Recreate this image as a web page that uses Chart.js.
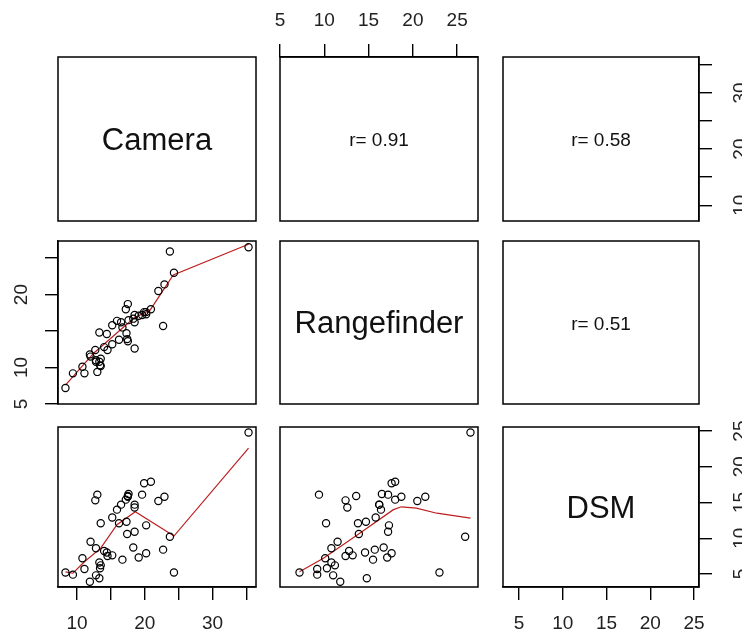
<!DOCTYPE html>
<html>
<head>
<meta charset="utf-8">
<title>pairs plot</title>
<script src="https://cdn.jsdelivr.net/npm/chart.js@4.4.1/dist/chart.umd.min.js"></script>
<style>
  body { margin: 0; background: #fff; }
  #wrap { position: relative; width: 742px; height: 636px; overflow: hidden; }
  #wrap canvas { position: absolute; left: 0; top: 0; }
</style>
</head>
<body>
<div id="wrap"></div>
<script>
var camera = [35.3, 20.9, 19.9, 13.0, 17.6, 19.6, 22.9, 17.5, 17.5, 22.0, 12.7, 17.2, 18.5, 18.5, 15.9, 16.5, 15.2, 17.3, 13.5, 16.2, 20.2, 18.5, 17.4, 23.7, 12.0, 18.3, 12.8, 22.7, 14.0, 14.4, 20.2, 15.2, 14.5, 19.1, 10.8, 16.7, 13.3, 13.5, 13.4, 11.1, 8.3, 24.3, 9.4, 12.8, 11.9, 13.3];
var rangefinder = [26.5, 18.0, 17.6, 9.4, 16.5, 17.2, 21.4, 18.7, 13.6, 20.5, 12.4, 18.0, 12.6, 16.2, 16.4, 16.2, 15.8, 14.7, 10.2, 13.8, 17.3, 17.2, 13.9, 25.9, 11.5, 16.7, 10.8, 15.7, 12.8, 14.6, 17.6, 13.2, 12.4, 17.1, 10.1, 15.5, 10.8, 11.2, 10.3, 9.2, 7.2, 23.0, 9.2, 11.0, 11.8, 14.8];
var dsm = [24.8, 17.9, 17.7, 16.1, 16.2, 16.1, 15.8, 15.8, 15.9, 15.2, 15.3, 15.4, 14.3, 14.7, 14.0, 14.7, 12.9, 12.3, 12.1, 12.1, 11.8, 10.9, 10.6, 10.2, 9.5, 8.7, 8.6, 8.4, 8.2, 8.0, 7.9, 7.6, 7.5, 7.3, 7.2, 7.0, 6.6, 6.2, 5.8, 5.7, 5.2, 5.2, 4.9, 4.8, 3.9, 4.4];

var varNames = ['Camera', 'Rangefinder', 'DSM'];
var corrLabels = ['r= 0.91', 'r= 0.58', 'r= 0.51']; // (1,2) (1,3) (2,3)

// red smoother lines
var smoothCamRfX = [8.3, 12.5, 18.4, 20.8, 24.2, 35.3];
var smoothCamRfY = [7.6, 12.0, 16.8, 17.9, 22.7, 26.9];
var smoothCamDsmX = [8.3, 9.4, 11.1, 13.5, 15.9, 18.6, 24.3, 35.3];
var smoothCamDsmY = [5.3, 5.1, 6.7, 8.6, 11.9, 13.7, 10.3, 22.6];
var smoothRfDsmX = [7.2, 9.9, 14.0, 17.8, 18.7, 20.4, 22.7, 26.5];
var smoothRfDsmY = [5.3, 7.2, 10.7, 14.0, 14.4, 14.2, 13.5, 12.8];

// axis limits and ticks
var cameraRange = [7.2, 36.4];
var rfRange = [5.0, 27.35];
var dsmRange = [3.17, 25.57];
var cameraTicks = [10, 15, 20, 25, 30, 35];
var cameraLabels = ['10', '', '20', '', '30', ''];
var rfTicks = [5, 10, 15, 20, 25];
var rfTopLabels = ['5', '10', '15', '20', '25'];
var rfLeftLabels = ['5', '10', '', '20', ''];
var dsmTicks = [5, 10, 15, 20, 25];
var dsmLabels = ['5', '10', '15', '20', '25'];

var fontFam = '"Liberation Sans", Arial, sans-serif';

// panel boxes in px
var colLeft = [58, 280, 503], colRight = [256, 478, 699];
var rowTop = [57, 241, 427], rowBottom = [221, 404, 587];

var vars = [camera, rangefinder, dsm];
var ranges = [cameraRange, rfRange, dsmRange];

function pairs(a, b) {
  return a.map(function (v, i) { return { x: v, y: b[i] }; });
}

var smooths = {
  '1,0': pairs(smoothCamRfX, smoothCamRfY),
  '2,0': pairs(smoothCamDsmX, smoothCamDsmY),
  '2,1': pairs(smoothRfDsmX, smoothRfDsmY)
};

function axis(range, show, pos, ticks, labels, size, pad) {
  var vertical = (pos == 'left' || pos == 'right');
  return {
    type: 'linear',
    position: pos,
    display: show,
    min: range[0],
    max: range[1],
    afterBuildTicks: function (s) {
      s.ticks = (ticks || []).map(function (v) { return { value: v }; });
    },
    afterFit: function (s) {
      if (!show) return;
      if (vertical) s.width = size; else s.height = size;
    },
    grid: { drawOnChartArea: false, drawTicks: true, tickLength: 13, color: '#000', lineWidth: 1.4 },
    border: { display: true, color: '#000', width: 1.4 },
    ticks: {
      autoSkip: false,
      color: '#222',
      padding: pad || 0,
      minRotation: vertical ? 90 : 0,
      maxRotation: vertical ? 90 : 0,
      crossAlign: vertical ? 'center' : 'near',
      font: { family: fontFam, size: 19 },
      callback: function (v) {
        var k = ticks ? ticks.indexOf(v) : -1;
        return k >= 0 ? labels[k] : '';
      }
    }
  };
}

var panelBox = {
  id: 'panelBox',
  afterDatasetsDraw: function (chart, args, opts) {
    var a = chart.chartArea;
    var ctx = chart.ctx;
    ctx.save();
    ctx.strokeStyle = '#000';
    ctx.lineWidth = 1.5;
    ctx.strokeRect(a.left, a.top, a.right - a.left, a.bottom - a.top);
    if (opts.text) {
      ctx.fillStyle = '#111';
      ctx.font = opts.size + 'px ' + fontFam;
      ctx.textAlign = 'center';
      ctx.textBaseline = 'middle';
      ctx.fillText(opts.text, (a.left + a.right) / 2, (a.top + a.bottom) / 2 + 2);
    }
    ctx.restore();
  }
};

var wrap = document.getElementById('wrap');

for (var r = 0; r < 3; r++) {
  for (var c = 0; c < 3; c++) {
    var cv = document.createElement('canvas');
    cv.width = 742;
    cv.height = 636;
    wrap.appendChild(cv);

    // which outer axes this panel carries (R pairs layout)
    var showTop = (r == 0 && c == 1);
    var showBottom = (r == 2 && c != 1);
    var showLeft = (r == 1 && c == 0);
    var showRight = (c == 2 && r != 1);

    var xTicks = null, xLabels = null, yTicks = null, yLabels = null;
    if (showTop) { xTicks = rfTicks; xLabels = rfTopLabels; }
    if (showBottom) {
      if (c == 0) { xTicks = cameraTicks; xLabels = cameraLabels; }
      else { xTicks = dsmTicks; xLabels = dsmLabels; }
    }
    if (showLeft) { yTicks = rfTicks; yLabels = rfLeftLabels; }
    if (showRight) {
      if (r == 0) { yTicks = cameraTicks; yLabels = cameraLabels; }
      else { yTicks = dsmTicks; yLabels = dsmLabels; }
    }

    var padding = {
      left: colLeft[c] - (showLeft ? 45 : 0),
      right: 742 - colRight[c] - (showRight ? 43 : 0),
      top: rowTop[r] - (showTop ? 44 : 0),
      bottom: 636 - rowBottom[r] - (showBottom ? 45 : 0)
    };

    var datasets = [];
    var text = null, size = 19;
    if (r > c) {
      datasets.push({
        data: pairs(vars[c], vars[r]),
        pointRadius: 3.6,
        pointBorderWidth: 1.2,
        pointBorderColor: '#000',
        pointBackgroundColor: 'rgba(0,0,0,0)'
      });
      datasets.push({
        data: smooths[r + ',' + c],
        showLine: true,
        pointRadius: 0,
        borderColor: 'rgb(190,30,30)',
        borderWidth: 1.2,
        fill: false
      });
    } else if (r == c) {
      text = varNames[r];
      size = 31;
    } else {
      text = corrLabels[r + c - 1];
      size = 19;
    }

    new Chart(cv, {
      type: 'scatter',
      data: { datasets: datasets },
      options: {
        responsive: false,
        animation: false,
        events: [],
        layout: { padding: padding },
        plugins: {
          legend: { display: false },
          tooltip: { enabled: false },
          panelBox: { text: text, size: size }
        },
        scales: {
          x: axis(ranges[c], showTop || showBottom, showTop ? 'top' : 'bottom', xTicks, xLabels, showTop ? 44 : 45, 12),
          y: axis(ranges[r], showLeft || showRight, showLeft ? 'left' : 'right', yTicks, yLabels, showLeft ? 45 : 43, showLeft ? 13 : 18)
        }
      },
      plugins: [panelBox]
    });
  }
}
</script>
</body>
</html>
